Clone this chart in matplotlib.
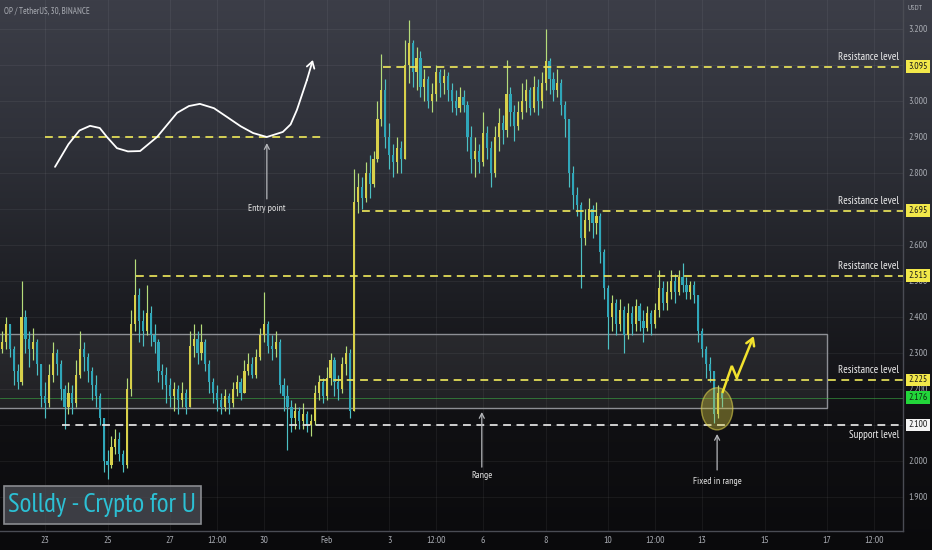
import numpy as np
import matplotlib
matplotlib.use('Agg')
import matplotlib.pyplot as plt
from matplotlib.patches import Rectangle, Ellipse
import matplotlib.transforms as mtransforms

FONT = ['Ubuntu Condensed', 'PT Sans Narrow', 'IBM Plex Sans Condensed', 'DejaVu Sans']
plt.rcParams['font.family'] = FONT

# ---------------- data ----------------
title_text = "OP / TetherUS, 30, BINANCE"
unit_text = "USDT"
t_start, t_step = 21.625, 0.125          # day number (Jan 23 = 23, Feb 1 = 32), 3h candles
first_open = 2.31
closes = [2.33, 2.38, 2.31, 2.25, 2.22, 2.40, 2.34, 2.31, 2.33, 2.27,
          2.18, 2.16, 2.24, 2.30, 2.27, 2.20, 2.15, 2.19, 2.16, 2.24,
          2.31, 2.29, 2.25, 2.21, 2.18, 2.12, 2.00, 1.99, 2.04, 2.06,
          2.02, 1.99, 2.20, 2.38, 2.46, 2.39, 2.36, 2.41, 2.35, 2.33,
          2.25, 2.24, 2.21, 2.18, 2.20, 2.17, 2.19, 2.15, 2.32, 2.34,
          2.30, 2.33, 2.27, 2.22, 2.19, 2.17, 2.15, 2.18, 2.16, 2.20,
          2.22, 2.19, 2.25, 2.27, 2.24, 2.29, 2.35, 2.38, 2.32, 2.31,
          2.33, 2.21, 2.18, 2.15, 2.12, 2.14, 2.11, 2.13, 2.10, 2.11,
          2.19, 2.22, 2.18, 2.23, 2.28, 2.22, 2.20, 2.27, 2.30, 2.14,
          2.72, 2.76, 2.73, 2.80, 2.77, 2.84, 2.95, 3.03, 2.90, 2.85,
          2.83, 2.87, 2.84, 3.10, 3.16, 3.08, 3.12, 3.04, 3.06, 3.00,
          3.02, 3.08, 3.05, 3.07, 3.03, 3.00, 2.98, 3.01, 2.99, 2.90,
          2.84, 2.86, 2.83, 2.91, 2.87, 2.80, 2.90, 2.94, 2.92, 3.02,
          2.97, 2.93, 2.97, 3.00, 3.03, 2.98, 3.04, 3.00, 3.05, 3.11,
          3.06, 3.03, 3.05, 2.99, 2.95, 2.80, 2.74, 2.71, 2.62, 2.67,
          2.70, 2.66, 2.68, 2.58, 2.48, 2.40, 2.44, 2.38, 2.42, 2.35,
          2.41, 2.38, 2.43, 2.39, 2.37, 2.41, 2.38, 2.42, 2.48, 2.44,
          2.47, 2.50, 2.47, 2.51, 2.49, 2.47, 2.49, 2.46, 2.36, 2.31,
          2.27, 2.25, 2.13, 2.19, 2.176]
highs = [2.36, 2.40, 2.38, 2.32, 2.27, 2.50, 2.42, 2.36, 2.37, 2.34,
         2.27, 2.22, 2.27, 2.33, 2.31, 2.28, 2.21, 2.22, 2.21, 2.28,
         2.36, 2.33, 2.30, 2.26, 2.24, 2.19, 2.12, 2.03, 2.07, 2.09,
         2.08, 2.03, 2.23, 2.42, 2.56, 2.48, 2.42, 2.49, 2.43, 2.38,
         2.34, 2.27, 2.26, 2.23, 2.22, 2.21, 2.22, 2.20, 2.36, 2.38,
         2.36, 2.38, 2.34, 2.28, 2.23, 2.21, 2.19, 2.20, 2.19, 2.22,
         2.24, 2.23, 2.28, 2.30, 2.29, 2.31, 2.37, 2.47, 2.39, 2.35,
         2.36, 2.34, 2.23, 2.21, 2.17, 2.16, 2.15, 2.16, 2.14, 2.13,
         2.21, 2.24, 2.23, 2.26, 2.30, 2.29, 2.24, 2.29, 2.32, 2.31,
         2.81, 2.80, 2.79, 2.83, 2.85, 2.86, 3.00, 3.13, 3.06, 2.94,
         2.88, 2.90, 2.89, 3.17, 3.225, 3.17, 3.15, 3.14, 3.09, 3.07,
         3.05, 3.10, 3.09, 3.09, 3.08, 3.05, 3.03, 3.04, 3.03, 3.00,
         2.93, 2.90, 2.88, 2.97, 2.93, 2.89, 2.93, 2.98, 2.96, 3.115,
         3.04, 2.99, 3.00, 3.05, 3.06, 3.04, 3.07, 3.06, 3.08, 3.20,
         3.12, 3.08, 3.09, 3.06, 3.00, 2.95, 2.82, 2.76, 2.72, 2.70,
         2.73, 2.71, 2.72, 2.69, 2.59, 2.49, 2.46, 2.45, 2.45, 2.43,
         2.44, 2.43, 2.45, 2.44, 2.42, 2.43, 2.42, 2.44, 2.53, 2.50,
         2.50, 2.53, 2.52, 2.53, 2.55, 2.51, 2.50, 2.50, 2.46, 2.37,
         2.32, 2.29, 2.25, 2.21, 2.20]
lows = [2.30, 2.31, 2.29, 2.21, 2.20, 2.21, 2.30, 2.26, 2.28, 2.24,
        2.15, 2.12, 2.15, 2.22, 2.24, 2.17, 2.09, 2.13, 2.13, 2.15,
        2.23, 2.25, 2.22, 2.17, 2.15, 2.10, 1.97, 1.95, 1.98, 2.02,
        2.00, 1.97, 1.98, 2.18, 2.36, 2.33, 2.32, 2.35, 2.32, 2.30,
        2.22, 2.20, 2.16, 2.15, 2.14, 2.13, 2.15, 2.13, 2.15, 2.29,
        2.27, 2.28, 2.25, 2.19, 2.16, 2.14, 2.13, 2.14, 2.13, 2.15,
        2.18, 2.17, 2.19, 2.24, 2.23, 2.23, 2.28, 2.33, 2.30, 2.28,
        2.29, 2.19, 2.14, 2.03, 2.08, 2.09, 2.09, 2.09, 2.08, 2.07,
        2.10, 2.17, 2.16, 2.17, 2.21, 2.18, 2.17, 2.19, 2.24, 2.12,
        2.14, 2.69, 2.70, 2.72, 2.73, 2.76, 2.83, 2.93, 2.87, 2.81,
        2.79, 2.80, 2.80, 2.84, 3.05, 3.04, 3.03, 3.01, 3.00, 2.98,
        2.97, 3.00, 3.01, 3.02, 3.00, 2.97, 2.96, 2.97, 2.97, 2.86,
        2.80, 2.79, 2.80, 2.82, 2.84, 2.76, 2.79, 2.86, 2.88, 2.90,
        2.93, 2.89, 2.92, 2.95, 2.97, 2.96, 2.97, 2.96, 2.98, 3.03,
        3.02, 3.00, 3.01, 2.96, 2.90, 2.76, 2.70, 2.68, 2.48, 2.60,
        2.64, 2.62, 2.63, 2.55, 2.45, 2.31, 2.36, 2.35, 2.36, 2.30,
        2.34, 2.35, 2.36, 2.36, 2.33, 2.36, 2.35, 2.37, 2.40, 2.42,
        2.42, 2.45, 2.44, 2.46, 2.47, 2.45, 2.45, 2.44, 2.33, 2.29,
        2.23, 2.22, 2.105, 2.12, 2.15]

resistance_levels = [3.095, 2.695, 2.515, 2.225]
resistance_starts = [33.8, 33.13, 25.9, 31.8]
resistance_labels = ["3.095", "2.695", "2.515", "2.225"]
support_level, support_start, support_label = 2.100, 23.55, "2.100"
current_price, current_label = 2.176, "2.176"
range_low, range_high, range_end = 2.147, 2.353, 48.0
entry_level, entry_from, entry_to = 2.90, 23.0, 31.85

entry_curve_d = [23.32, 23.75, 24.10, 24.44, 24.75, 24.98, 25.30, 25.65, 26.04, 26.58,
                 27.22, 27.60, 27.95, 28.40, 28.81, 29.25, 29.65, 30.09, 30.60, 30.85,
                 31.05, 31.37, 31.56]
entry_curve_p = [2.817, 2.880, 2.918, 2.931, 2.925, 2.900, 2.869, 2.860, 2.861, 2.900,
                 2.967, 2.986, 2.992, 2.980, 2.956, 2.930, 2.911, 2.900, 2.914, 2.935,
                 2.975, 3.058, 3.114]
zigzag_d = [44.66, 44.95, 45.11, 45.65]
zigzag_p = [2.192, 2.264, 2.231, 2.347]

xtick_pos = [23, 25, 27, 28.5, 30, 32, 34, 35.5, 37, 39, 41, 42.5, 44, 46, 48, 49.5]
xtick_lab = ["23", "25", "27", "12:00", "30", "Feb", "3", "12:00", "6", "8", "10",
             "12:00", "13", "15", "17", "12:00"]
ytick_pos = [1.9, 2.0, 2.1, 2.2, 2.3, 2.4, 2.5, 2.6, 2.7, 2.8, 2.9, 3.0, 3.1, 3.2]

# ---------------- figure ----------------
W, H = 932, 550
fig = plt.figure(figsize=(W / 100, H / 100), dpi=100)

bg = fig.add_axes([0, 0, 1, 1], zorder=-10)
stops_y = [0, 150, 300, 420, 550]
stops_c = np.array([[60, 62, 72], [46, 48, 56], [28, 29, 34], [16, 16, 19], [10, 10, 12]]) / 255
yy = np.arange(H)
grad = np.stack([np.interp(yy, stops_y, stops_c[:, k]) for k in range(3)], axis=-1)[:, None, :]
bg.imshow(grad, aspect='auto', extent=[0, W, H, 0])
bg.set_xlim(0, W)
bg.set_ylim(H, 0)
bg.axis('off')

px_day = 31.29
x_left = 23 - 45 / px_day
x_right = 23 + (903 - 45) / px_day
p_per_px = 0.1 / 36.0
y_top = 3.2 + 29 * p_per_px
y_bot = 3.2 - (531 - 29) * p_per_px

ax = fig.add_axes([0, (H - 531) / H, 903 / W, 531 / H])
ax.set_facecolor('none')
ax.set_xlim(x_left, x_right)
ax.set_ylim(y_bot, y_top)

for s in ['top', 'left']:
    ax.spines[s].set_visible(False)
for s in ['right', 'bottom']:
    ax.spines[s].set_color('#4a4c54')
    ax.spines[s].set_linewidth(1.0)

ax.yaxis.tick_right()
ax.set_yticks(ytick_pos)
ax.set_yticklabels([f"{v:.3f}" for v in ytick_pos])
ax.set_xticks(xtick_pos)
ax.set_xticklabels(xtick_lab)
ax.tick_params(axis='both', length=0, colors='#a8abb2', labelsize=7.0)
ax.tick_params(axis='y', pad=4)
ax.tick_params(axis='x', pad=3.5)
ax.grid(True, color='#ffffff', alpha=0.055, lw=0.8)
ax.set_axisbelow(True)

# ---------------- range box ----------------
ax.add_patch(Rectangle((x_left - 1, range_low), range_end - x_left + 1, range_high - range_low,
                       facecolor=(1, 1, 1, 0.07), edgecolor='#8d8f95', lw=1.0, zorder=1))

# ---------------- candles ----------------
t = t_start + t_step * np.arange(len(closes))
c = np.array(closes)
o = np.concatenate([[first_open], c[:-1]])
h = np.maximum(np.array(highs), np.maximum(o, c))
l = np.minimum(np.array(lows), np.minimum(o, c))
up = c >= o
body_col = np.where(up, '#d8d04a', '#2fa6b9')
wick_col = np.where(up, '#b5dc7a', '#4cc0c4')
ax.vlines(t, l, h, colors=wick_col, lw=0.85, zorder=3)
ax.bar(t, np.maximum(np.abs(c - o), 0.004), bottom=np.minimum(o, c), width=0.07,
       color=body_col, lw=0, zorder=4)

# ---------------- levels ----------------
yel = '#e9e35a'
dash = (0, (4.5, 3.2))
for lv, st in zip(resistance_levels, resistance_starts):
    ax.hlines(lv, st, x_right, colors=yel, lw=1.25, linestyles=dash, zorder=5)
ax.hlines(support_level, support_start, x_right, colors='#e6e6e6', lw=1.25, linestyles=dash, zorder=5)
ax.hlines(entry_level, entry_from, entry_to, colors=yel, lw=1.25, linestyles=dash, zorder=5)
ax.axhline(current_price, color='#3fbf4a', lw=0.6, alpha=0.6, zorder=2)

lab_x = 23 + (899 - 45) / px_day
txt_kw = dict(color='#f0f0f0', fontsize=7.8, ha='right', zorder=8)
for lv in resistance_levels:
    ax.text(lab_x, lv + 0.013, "Resistance level", va='bottom', **txt_kw)
ax.text(lab_x, support_level - 0.015, "Support level", va='top', **txt_kw)

# ---------------- price boxes on right axis ----------------
trans = mtransforms.blended_transform_factory(ax.transAxes, ax.transData)
def price_box(val, s, fc, tc):
    ax.text(1.006, val, s, transform=trans, ha='left', va='center', fontsize=7.0, color=tc,
            clip_on=False, zorder=20,
            bbox=dict(boxstyle='square,pad=0.2', fc=fc, ec='none'))
for lv, s in zip(resistance_levels, resistance_labels):
    price_box(lv, s, '#f2e84a', '#1a1a1a')
price_box(current_price, current_label, '#22d63a', '#0d2a10')
price_box(support_level, support_label, '#f4f4f4', '#1a1a1a')

# ---------------- annotations ----------------
ax.plot(entry_curve_d[:-1], entry_curve_p[:-1], color='white', lw=1.3, zorder=6,
        solid_capstyle='round', solid_joinstyle='round')
ax.annotate('', xy=(entry_curve_d[-1], entry_curve_p[-1]),
            xytext=(entry_curve_d[-2], entry_curve_p[-2]),
            arrowprops=dict(arrowstyle='->,head_length=0.45,head_width=0.28', color='white',
                            lw=1.3, shrinkA=0, shrinkB=0), zorder=6)

arrow_col = '#b5b7bb'
def up_arrow(xd, p_tail, p_head, label, p_text):
    ax.annotate('', xy=(xd, p_head), xytext=(xd, p_tail),
                arrowprops=dict(arrowstyle='->,head_length=0.35,head_width=0.18', color=arrow_col,
                                lw=0.9, shrinkA=0, shrinkB=0), zorder=7)
    ax.text(xd, p_text, label, color='#e2e2e2', fontsize=7.0, ha='center', va='center', zorder=8)

up_arrow(30.09, 2.728, 2.883, "Entry point", 2.700)
up_arrow(36.96, 1.983, 2.136, "Range", 1.960)
up_arrow(44.48, 1.975, 2.075, "Fixed in range", 1.944)

ax.add_patch(Ellipse((44.48, 2.145), 1.0, 0.117, facecolor=(0.85, 0.8, 0.25, 0.38),
                     edgecolor=(0.9, 0.85, 0.3, 0.55), lw=1.0, zorder=6))

ax.plot(zigzag_d[:-1], zigzag_p[:-1], color='#f2e22e', lw=1.8, zorder=7, solid_joinstyle='miter')
ax.annotate('', xy=(zigzag_d[-1], zigzag_p[-1]), xytext=(zigzag_d[-2], zigzag_p[-2]),
            arrowprops=dict(arrowstyle='->,head_length=0.5,head_width=0.3', color='#f2e22e',
                            lw=1.8, shrinkA=0, shrinkB=0), zorder=7)

# ---------------- header texts & watermark ----------------
bg.text(4, 11, title_text, color='#a9acb3', fontsize=6.4, ha='left', va='center')
bg.text(908, 9, unit_text, color='#a9acb3', fontsize=5.8, ha='left', va='center')

wm = fig.add_axes([0, 0, 1, 1], zorder=20)
wm.set_xlim(0, W)
wm.set_ylim(H, 0)
wm.axis('off')
wm.add_patch(Rectangle((3.5, 486), 197.5, 38, facecolor=(0.30, 0.31, 0.34, 0.75),
                       edgecolor='#8a8c90', lw=1.2))
wm.text(8, 505, "Solldy - Crypto for U", color='#2cc0d4', fontsize=19.5, ha='left', va='center')

fig.savefig('out.png', dpi=100)
